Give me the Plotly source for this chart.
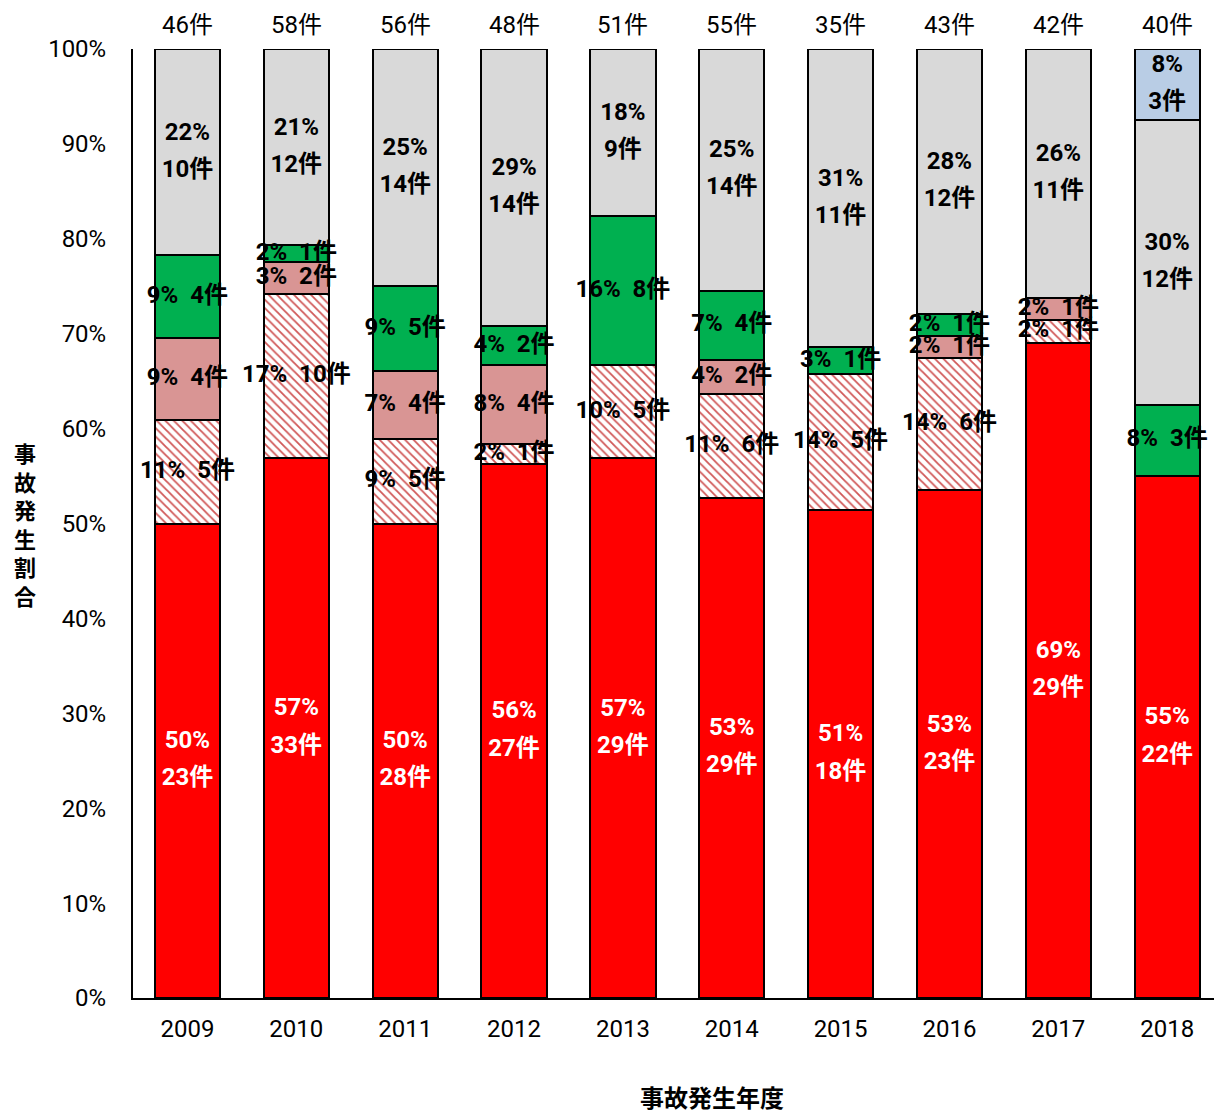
import plotly.graph_objects as go

years = ["2009", "2010", "2011", "2012", "2013", "2014", "2015", "2016", "2017", "2018"]
red_counts = [23, 33, 28, 27, 29, 29, 18, 23, 29, 22]
hatched_counts = [5, 10, 5, 1, 5, 6, 5, 6, 1, 0]
pink_counts = [4, 2, 4, 4, 0, 2, 0, 1, 1, 0]
green_counts = [4, 1, 5, 2, 8, 4, 1, 1, 0, 3]
gray_counts = [10, 12, 14, 14, 9, 14, 11, 12, 11, 12]
blue_counts = [0, 0, 0, 0, 0, 0, 0, 0, 0, 3]

series = [
    dict(counts=red_counts, color="#FF0000", pattern=None, two_line=True, tcolor="white"),
    dict(counts=hatched_counts, color="white", pattern="\\", two_line=False, tcolor="black"),
    dict(counts=pink_counts, color="#D99594", pattern=None, two_line=False, tcolor="black"),
    dict(counts=green_counts, color="#00B050", pattern=None, two_line=False, tcolor="black"),
    dict(counts=gray_counts, color="#D9D9D9", pattern=None, two_line=True, tcolor="black"),
    dict(counts=blue_counts, color="#B9CDE5", pattern=None, two_line=True, tcolor="black"),
]

totals = [sum(s["counts"][i] for s in series) for i in range(len(years))]

FONT = "Roboto, Noto Sans CJK JP"

fig = go.Figure()
base = [0.0] * len(years)
label_traces = []
for s in series:
    pct = [c / t * 100 for c, t in zip(s["counts"], totals)]
    marker = dict(color=s["color"], line=dict(color="black", width=2))
    if s["pattern"]:
        marker["pattern"] = dict(shape=s["pattern"], fgcolor="#D05858", bgcolor="white",
                                 size=6, solidity=0.3, fillmode="replace")
    fig.add_trace(go.Bar(x=years, y=pct, marker=marker, showlegend=False, hoverinfo="skip"))
    xs, ys, t_top, t_bot, t_one = [], [], [], [], []
    for i, (c, t) in enumerate(zip(s["counts"], totals)):
        if c == 0:
            continue
        p = int(c / t * 100 + 0.5)
        xs.append(years[i])
        ys.append(base[i] + pct[i] / 2)
        t_top.append(f"{p}%")
        t_bot.append(f"{c}件")
        t_one.append(f"{p}%  {c}件")
    f = dict(family=FONT, size=24, color=s["tcolor"], weight="bold")
    spacer = dict(size=9, color="rgba(0,0,0,0)", line=dict(width=0))
    if s["two_line"]:
        label_traces.append(go.Scatter(x=xs, y=ys, mode="markers+text", text=t_top,
                                       textposition="top center", marker=spacer,
                                       textfont=f, showlegend=False, hoverinfo="skip", cliponaxis=False))
        label_traces.append(go.Scatter(x=xs, y=ys, mode="markers+text", text=t_bot,
                                       textposition="bottom center", marker=spacer,
                                       textfont=f, showlegend=False, hoverinfo="skip", cliponaxis=False))
    else:
        label_traces.append(go.Scatter(x=xs, y=ys, mode="text", text=t_one, textposition="middle center",
                                       textfont=f, showlegend=False, hoverinfo="skip", cliponaxis=False))
    base = [b + v for b, v in zip(base, pct)]

for tr in label_traces:
    fig.add_trace(tr)

for i, t in enumerate(totals):
    fig.add_annotation(x=i, y=1, xref="x", yref="paper", yanchor="bottom", yshift=8,
                       text=f"{t}件", showarrow=False,
                       font=dict(family=FONT, size=24, color="black"))

fig.add_annotation(x=-0.112, y=0.5, xref="paper", yref="paper",
                   text="<br>".join(list("事故発生割合")), showarrow=False,
                   font=dict(family="Noto Sans CJK JP", size=22, color="black", weight="bold"))
fig.add_annotation(x=0.5356, y=-0.105, xref="paper", yref="paper", yanchor="middle", yshift=1,
                   text="事故発生年度", showarrow=False,
                   font=dict(family="Noto Sans CJK JP", size=24, color="black", weight="bold"))

fig.update_layout(
    barmode="stack", bargap=0.4, width=1214, height=1113,
    margin=dict(l=133, r=0, t=49, b=115),
    plot_bgcolor="white", paper_bgcolor="white",
    xaxis=dict(type="category", range=[-0.5, 9.43], showline=True, linecolor="black", linewidth=2,
               ticks="", tickfont=dict(family=FONT, size=24, color="black"), showgrid=False,
               ticklabelstandoff=8),
    yaxis=dict(range=[0, 100], tickvals=list(range(0, 101, 10)),
               ticktext=[f"{v}%" for v in range(0, 101, 10)],
               showline=True, linecolor="black", linewidth=2, ticks="", showgrid=False,
               zeroline=False, ticklabelstandoff=20,
               tickfont=dict(family=FONT, size=24, color="black")),
)

fig.write_html("out.html")
